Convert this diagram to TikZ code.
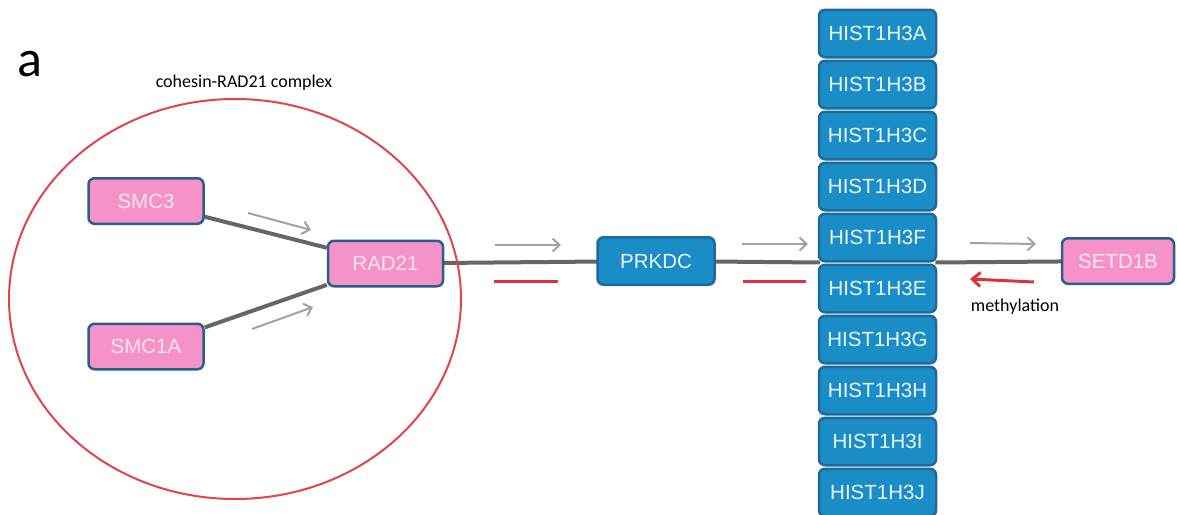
\documentclass[tikz,border=0pt]{standalone}
\usepackage{fontspec}
\setmainfont{Liberation Sans}
\newfontfamily\calfont{Carlito}
\usetikzlibrary{arrows.meta,shapes.geometric}
\definecolor{bluefill}{HTML}{1A8CC6}
\definecolor{blueedge}{HTML}{1E6A9A}
\definecolor{pinkfill}{HTML}{F592C8}
\definecolor{pinkedge}{HTML}{2A5E8E}
\definecolor{pinktext}{HTML}{FFE4F2}
\definecolor{bluetext}{HTML}{EAF6FF}
\definecolor{linegray}{HTML}{666666}
\definecolor{arrowgray}{HTML}{A3A3A3}
\definecolor{redline}{HTML}{E0303A}
\definecolor{ellred}{HTML}{E0444E}
\pgfdeclarelayer{bg}
\pgfsetlayers{bg,main}
\tikzset{
  x=1pt,y=-1pt,
  box/.style={draw, line width=2.5pt, rounded corners=6pt, inner sep=0pt,
    font=\fontsize{20.5}{23}\selectfont},
  bluebox/.style={box, fill=bluefill, draw=blueedge, text=bluetext,
    minimum width=117pt, minimum height=47.5pt},
  pinkbox/.style={box, fill=pinkfill, draw=pinkedge, text=pinktext,
    minimum width=115pt, minimum height=45.5pt},
  link/.style={draw=linegray, line width=4pt},
  grayarrow/.style={draw=arrowgray, line width=2pt,
    -{Straight Barb[length=7pt,width=13pt,line width=2pt]}},
  redarrow/.style={draw=redline, line width=3pt,
    -{Straight Barb[length=8pt,width=14pt,line width=3pt]}},
  redbar/.style={draw=redline, line width=3pt},
  lbl/.style={font=\calfont\fontsize{18}{21}\selectfont, inner sep=0pt, anchor=base},
}
\begin{document}
\begin{tikzpicture}
\useasboundingbox (0,0) rectangle (1177,514);
\begin{pgfonlayer}{bg}
\fill[white] (0,0) rectangle (1177,514);
\end{pgfonlayer}

% ellipse
\node[draw=ellred, line width=2pt, ellipse, minimum width=452pt, minimum height=400pt, inner sep=0pt] (cplx) at (235,299) {};

% labels
\node[font=\calfont\fontsize{52}{56}\selectfont, inner sep=0pt, anchor=base] (lab) at (30,76) {a};
\node[lbl] (cname) at (244,87) {cohesin-RAD21 complex};
\node[lbl] (meth) at (1015,311) {methylation};

% nodes
\node[pinkbox] (smc3) at (146,201) {SMC3};
\node[pinkbox] (smc1a) at (146,346.5) {SMC1A};
\node[pinkbox] (rad21) at (385.5,263.5) {RAD21};
\node[bluebox] (prkdc) at (656,261) {PRKDC};
\node[pinkbox, minimum width=112pt] (setd) at (1118,261) {SETD1B};
\foreach \n [count=\i from 0] in {A,B,C,D,F,E,G,H,I,J}{
  \node[bluebox] (h\n) at (877.5,{33.5+51*\i}) {HIST1H3\n};
}

% connectors (behind the boxes)
\begin{pgfonlayer}{bg}
\draw[link] (smc3.-15) -- (rad21.165);
\draw[link] (smc1a.18) -- (rad21.200);
\draw[link] (rad21.center) -- (prkdc.center);
\draw[link] (prkdc.center) -- ([xshift=2pt]hF.south west);
\draw[link] ([xshift=-2pt]hF.south east) -- (setd.center);
\end{pgfonlayer}

% arrows and bars
\coordinate (a1s) at (248,213); \coordinate (a1e) at (311,230);
\coordinate (a2s) at (252,329); \coordinate (a2e) at (313,307);
\coordinate (a3s) at (495,245); \coordinate (a3e) at (561,245);
\coordinate (a4s) at (742,244); \coordinate (a4e) at (808,244);
\coordinate (a5s) at (970,243); \coordinate (a5e) at (1036,244);
\coordinate (r1s) at (494,281); \coordinate (r1e) at (558,281);
\coordinate (r2s) at (743,281); \coordinate (r2e) at (806,281);
\coordinate (r3s) at (1034,282); \coordinate (r3e) at (970,279);
\draw[grayarrow] (a1s) -- (a1e);
\draw[grayarrow] (a2s) -- (a2e);
\draw[grayarrow] (a3s) -- (a3e);
\draw[grayarrow] (a4s) -- (a4e);
\draw[grayarrow] (a5s) -- (a5e);
\draw[redbar] (r1s) -- (r1e);
\draw[redbar] (r2s) -- (r2e);
\draw[redarrow] (r3s) -- (r3e);
\end{tikzpicture}
\end{document}
